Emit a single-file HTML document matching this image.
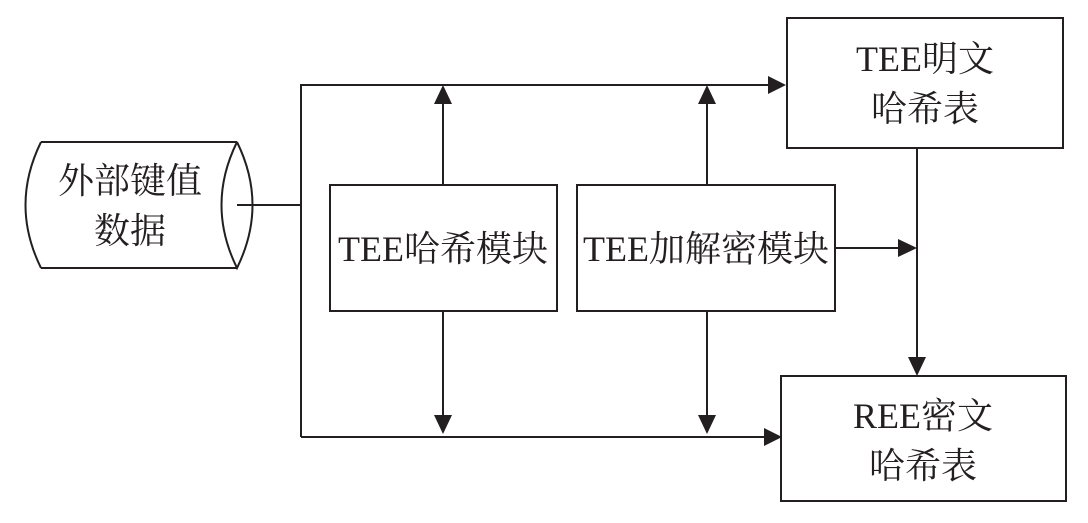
<!DOCTYPE html>
<html><head><meta charset="utf-8"><style>
html,body{margin:0;padding:0;background:#fff;width:1088px;height:523px;overflow:hidden}
text{font-family:"Liberation Serif","Noto Serif CJK SC",serif;font-size:36px;fill:#231f20}
</style></head><body>
<svg width="1088" height="523" viewBox="0 0 1088 523" xmlns="http://www.w3.org/2000/svg">
<defs><marker id="a" markerWidth="8" markerHeight="8" refX="8" refY="4" orient="auto" markerUnits="userSpaceOnUse" viewBox="0 0 8 8"><path d="M0,0 L8,4 L0,8 Z" fill="#231f20"/></marker></defs>
<g stroke="#231f20" stroke-width="2" fill="none">
<path d="M41,142 L237,142 M41,268 L237,268 M41,142 Q10,205 41,268"/>
<path d="M237,142 Q268,205 237,268 Q206,205 237,142"/>
<line x1="237" y1="205" x2="301" y2="205"/>
<line x1="301" y1="84" x2="301" y2="437"/>
<line x1="301" y1="85" x2="770" y2="85"/>
<line x1="301" y1="437" x2="766" y2="437"/>
<rect x="330" y="185" width="227" height="126"/>
<rect x="577" y="185" width="258" height="126"/>
<rect x="787" y="18" width="276" height="130"/>
<rect x="781" y="376" width="285" height="125"/>
<line x1="443" y1="185" x2="443" y2="103"/>
<line x1="707" y1="185" x2="707" y2="103"/>
<line x1="443" y1="311" x2="443" y2="416"/>
<line x1="707" y1="311" x2="707" y2="416"/>
<line x1="917" y1="148" x2="917" y2="358"/>
<line x1="835" y1="248" x2="899" y2="248"/>
</g>
<g fill="#231f20">
<path d="M786,85 L768,76 L768,94 Z"/>
<path d="M782,437 L764,428 L764,446 Z"/>
<path d="M443,85 L434,104 L452,104 Z"/>
<path d="M707,85 L698,104 L716,104 Z"/>
<path d="M443,434 L434,415 L452,415 Z"/>
<path d="M707,434 L698,415 L716,415 Z"/>
<path d="M917,376 L908,357 L926,357 Z"/>
<path d="M917,248 L898,239 L898,257 Z"/>
</g>
<text x="130" y="193" text-anchor="middle">外部键值</text>
<text x="130" y="243" text-anchor="middle">数据</text>
<text x="443" y="261" text-anchor="middle">TEE哈希模块</text>
<text x="706" y="261" text-anchor="middle">TEE加解密模块</text>
<text x="925" y="71" text-anchor="middle">TEE明文</text>
<text x="925" y="121" text-anchor="middle">哈希表</text>
<text x="923" y="428" text-anchor="middle">REE密文</text>
<text x="923" y="478" text-anchor="middle">哈希表</text>
</svg>
</body></html>
